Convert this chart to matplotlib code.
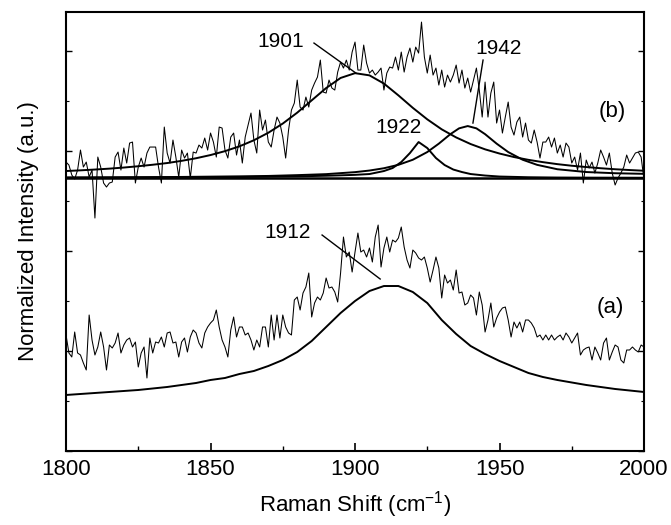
import numpy as np
import matplotlib
matplotlib.use("Agg")
import matplotlib.pyplot as plt
from matplotlib.ticker import MultipleLocator, NullFormatter

plt.rcParams['font.family'] = ['Liberation Sans', 'DejaVu Sans']
plt.rcParams['mathtext.fontset'] = 'custom'
plt.rcParams['mathtext.rm'] = 'Liberation Sans'

# Raman shift grid of the measured spectra (1 cm-1 steps)
shift = np.arange(1800, 2001)

# spectrum (b), height above its own baseline
spec_b = [16, 13, 3, -1, 8, 28, 11, 16, 1, 8,
          -40, 21, 11, -5, -9, -5, -4, 21, 26, 8,
          30, 15, 35, 36, -5, 11, 20, 11, 25, 31,
          31, 31, 11, -5, 51, 25, 15, 38, 21, 1,
          28, 20, 25, 0, 26, 25, 33, 30, 40, 28,
          45, 36, 21, 51, 50, 28, 20, 41, 45, 23,
          38, 15, 41, 53, 65, 38, 25, 68, 48, 58,
          36, 31, 48, 61, 55, 41, 20, 48, 68, 75,
          98, 71, 68, 81, 71, 88, 95, 101, 118, 86,
          85, 98, 90, 88, 106, 116, 110, 118, 108, 126,
          136, 108, 108, 133, 115, 105, 108, 103, 106, 110,
          88, 105, 111, 110, 121, 108, 126, 106, 121, 130,
          116, 131, 125, 156, 121, 105, 123, 103, 110, 93,
          108, 91, 103, 96, 103, 113, 95, 108, 90, 100,
          86, 98, 110, 88, 61, 96, 61, 85, 96, 55,
          68, 45, 61, 76, 51, 43, 56, 61, 41, 55,
          38, 35, 48, 36, 20, 36, 36, 41, 31, 40,
          25, 33, 21, 35, 31, 15, 21, 8, 25, -5,
          18, 10, 16, 5, 15, 28, 21, 13, 25, 5,
          -7, 0, 5, 11, 23, 15, 20, 25, 26, 21, -2]

# spectrum (a)
spec_a = [116, 98, 94, 119, 98, 96, 88, 81, 136, 111,
          96, 104, 119, 104, 81, 106, 103, 108, 118, 98,
          106, 111, 113, 104, 109, 84, 98, 104, 73, 113,
          98, 109, 108, 114, 104, 118, 119, 108, 109, 94,
          109, 113, 99, 114, 121, 118, 108, 103, 118, 124,
          128, 131, 141, 124, 111, 104, 94, 121, 134, 114,
          124, 124, 116, 118, 111, 101, 111, 104, 124, 124,
          104, 136, 111, 136, 113, 136, 124, 118, 116, 151,
          154, 141, 158, 164, 178, 134, 148, 154, 151, 158,
          173, 163, 164, 159, 149, 178, 214, 194, 199, 179,
          199, 218, 199, 201, 194, 203, 189, 214, 226, 184,
          203, 214, 199, 211, 209, 213, 224, 204, 191, 183,
          201, 198, 193, 191, 194, 183, 169, 181, 194, 183,
          153, 176, 168, 171, 161, 181, 158, 159, 146, 148,
          156, 153, 136, 159, 146, 119, 131, 148, 124, 133,
          139, 143, 144, 131, 114, 129, 123, 129, 119, 131,
          131, 128, 123, 114, 116, 111, 116, 111, 116, 111,
          114, 116, 111, 118, 114, 108, 113, 118, 96, 101,
          103, 104, 91, 104, 98, 91, 108, 113, 91, 99,
          106, 104, 91, 88, 101, 101, 104, 101, 99, 106, 104]

# fitted bands
fit_x = np.arange(1800, 2001, 5)
fit_1912 = [56, 57, 58, 59, 60, 61, 62.5, 64, 66, 68,
            71, 73, 77, 80, 85, 91, 99, 110, 124, 138,
            150, 160, 165, 165, 159, 148, 131, 117, 105, 97,
            90, 84, 78, 74, 71, 68.5, 66, 64, 62, 60.5, 59]
fit_1901 = [7.0, 7.7, 8.5, 9.4, 10.5, 11.8, 13.3, 15.0, 17.2, 19.8,
            23.0, 26.9, 31.7, 37.8, 45.3, 54.5, 65.4, 77.7, 90.0, 100.1,
            104.9, 102.7, 94.5, 82.7, 70.2, 58.7, 48.7, 40.6, 34.0, 28.7,
            24.5, 21.0, 18.2, 15.9, 13.9, 12.3, 11.0, 9.8, 8.8, 8.0, 7.3]

x_1922 = [1800, 1820, 1840, 1860, 1870, 1880, 1890, 1895, 1900, 1905, 1910, 1913, 1916, 1919,
          1922, 1925, 1928, 1931, 1934, 1937, 1940, 1945, 1950, 1960, 1970, 1980, 2000]
fit_1922 = [0.3, 0.5, 0.7, 1.0, 1.3, 1.7, 2.3, 2.7, 3.2, 4.0, 7.0, 10, 16, 25,
            36, 30, 20, 13, 8.5, 6, 4, 2.5, 1.5, 0.8, 0.5, 0.4, 0.3]

x_1942 = [1800, 1820, 1840, 1860, 1870, 1880, 1890, 1900, 1905, 1910, 1915, 1920, 1925, 1929,
          1933, 1936, 1939, 1942, 1945, 1949, 1953, 1958, 1963, 1970, 1980, 1990, 2000]
fit_1942 = [0.6, 0.8, 1.1, 1.7, 2.1, 2.9, 3.9, 5.9, 7.5, 9.8, 13.2, 18.3, 26, 34.4,
            43.9, 49.7, 52, 49.7, 43.9, 34.4, 26, 18.3, 13.2, 8.8, 6, 4.8, 4.2]

offset_b = 273  # vertical shift of spectrum (b)

fig = plt.figure(figsize=(6.71, 5.25), dpi=100)
ax = fig.add_axes([0.0984, 0.141, 0.8614, 0.836])

k = 'black'
# spectrum (a) and its fit
ax.plot(shift, spec_a, color=k, lw=0.75)
ax.plot(fit_x, fit_1912, color=k, lw=1.4)

# spectrum (b), baseline and the three bands
ax.axhline(offset_b, color=k, lw=1.8)
ax.plot(shift, np.array(spec_b) + offset_b, color=k, lw=0.75)
ax.plot(fit_x, np.array(fit_1901) + offset_b, color=k, lw=1.4)
ax.plot(x_1922, np.array(fit_1922) + offset_b, color=k, lw=1.4)
ax.plot(x_1942, np.array(fit_1942) + offset_b, color=k, lw=1.4)

# band labels with leader lines
fs = 15
ax.text(1874.4, 410, '1901', fontsize=fs, ha='center', va='center')
ax.plot([1885.8, 1900.3], [408, 378], color=k, lw=1.0)
ax.text(1949.8, 403, '1942', fontsize=fs, ha='center', va='center')
ax.plot([1944.3, 1940.8], [391, 328], color=k, lw=1.0)
ax.text(1914.9, 324, '1922', fontsize=fs, ha='center', va='center')
ax.text(1876.5, 219, '1912', fontsize=fs, ha='center', va='center')
ax.plot([1888.6, 1908.7], [216, 172], color=k, lw=1.0)
ax.text(1988.9, 340, '(b)', fontsize=fs + 1, ha='center', va='center')
ax.text(1988.2, 144, '(a)', fontsize=fs + 1, ha='center', va='center')

ax.set_xlim(1800, 2000)
ax.set_ylim(0, 439)
ax.xaxis.set_major_locator(MultipleLocator(50))
ax.xaxis.set_minor_locator(MultipleLocator(25))
ax.yaxis.set_major_locator(MultipleLocator(100))
ax.yaxis.set_minor_locator(MultipleLocator(50))
ax.yaxis.set_major_formatter(NullFormatter())
ax.tick_params(axis='x', which='both', direction='in', labelsize=16, pad=6)
ax.tick_params(axis='x', which='major', length=6, width=1.2)
ax.tick_params(axis='x', which='minor', length=3.5, width=1.0)
ax.tick_params(axis='y', which='both', direction='in', left=True, right=True)
ax.tick_params(axis='y', which='major', length=4, width=1.0)
ax.tick_params(axis='y', which='minor', length=2.5, width=0.8)
for s in ax.spines.values():
    s.set_linewidth(1.5)

ax.set_xlabel('Raman Shift (cm$^{-1}$)', fontsize=16, labelpad=6)
ax.set_ylabel('Normalized Intensity (a.u.)', fontsize=16, labelpad=16)

fig.savefig('out.png', dpi=100)
